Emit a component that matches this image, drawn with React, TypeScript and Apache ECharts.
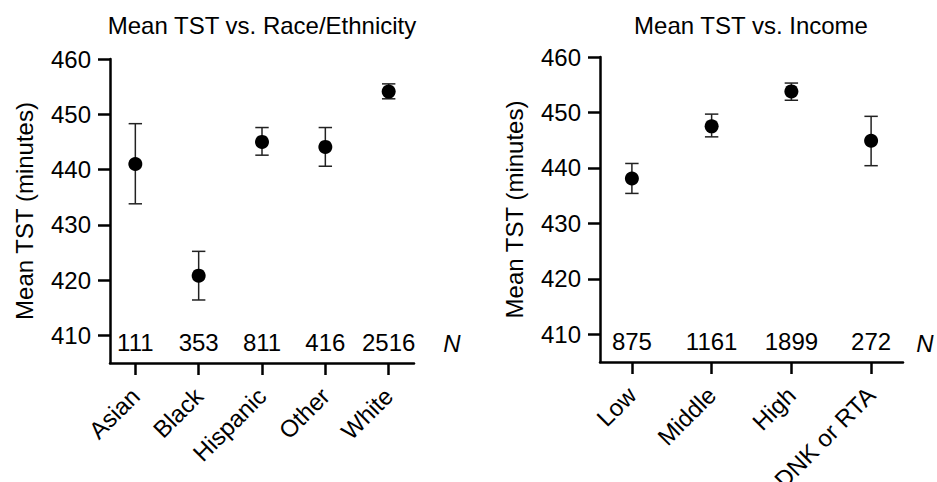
import React, { useEffect, useRef } from "react";
import * as echarts from "echarts";

const raceCats = ["Asian", "Black", "Hispanic", "Other", "White"];
const raceMean = [441.0, 420.8, 445.0, 444.1, 454.1];
const raceLower = [433.8, 416.4, 442.6, 440.6, 452.8];
const raceUpper = [448.3, 425.2, 447.6, 447.6, 455.5];
const raceN = [111, 353, 811, 416, 2516];

const incomeCats = ["Low", "Middle", "High", "DNK or RTA"];
const incomeMean = [438.1, 447.5, 453.8, 444.9];
const incomeLower = [435.4, 445.6, 452.2, 440.4];
const incomeUpper = [440.8, 449.7, 455.3, 449.3];
const incomeN = [875, 1161, 1899, 272];

const yTicks = [410, 420, 430, 440, 450, 460];
const yMin = 405;
const yMax = 460;

const titles = ["Mean TST vs. Race/Ethnicity", "Mean TST vs. Income"];
const yName = "Mean TST (minutes)";

const FONT = "'Liberation Sans', Arial, Helvetica, sans-serif";
const TXT = "#000";

function errorRender(params: any, api: any) {
  const x = api.value(0);
  const lo = api.coord([x, api.value(1)]);
  const hi = api.coord([x, api.value(2)]);
  const hw = 6.7;
  const style = { stroke: "#222", lineWidth: 1.5 };
  return {
    type: "group",
    children: [
      { type: "line", shape: { x1: lo[0], y1: lo[1], x2: hi[0], y2: hi[1] }, style },
      { type: "line", shape: { x1: lo[0] - hw, y1: lo[1], x2: lo[0] + hw, y2: lo[1] }, style },
      { type: "line", shape: { x1: hi[0] - hw, y1: hi[1], x2: hi[0] + hw, y2: hi[1] }, style },
    ],
  };
}

function buildPanel(idx: number, cats: string[], mean: number[], lower: number[], upper: number[], n: number[]) {
  const pos = cats.map((_, i) => i + 1);
  const xAxis = {
    type: "value",
    gridIndex: idx,
    min: 0.6,
    max: cats.length + 0.4,
    splitLine: { show: false },
    axisLine: { show: true, onZero: false, lineStyle: { color: "#000", width: 2.5 } },
    axisTick: { show: true, customValues: pos, length: 12, lineStyle: { color: "#000", width: 2.5 } },
    axisLabel: {
      customValues: pos,
      rotate: 45,
      margin: 29,
      color: TXT,
      fontSize: 24,
      fontFamily: FONT,
      formatter: (v: number) => cats[Math.round(v) - 1] ?? "",
    },
  };
  const yAxis = {
    type: "value",
    gridIndex: idx,
    min: yMin,
    max: yMax,
    name: yName,
    nameLocation: "middle",
    nameGap: 74,
    nameTextStyle: { color: TXT, fontSize: 24, fontFamily: FONT },
    splitLine: { show: false },
    axisLine: { show: true, onZero: false, lineStyle: { color: "#000", width: 2.5 } },
    axisTick: { show: true, customValues: yTicks, length: 12, lineStyle: { color: "#000", width: 2.5 } },
    axisLabel: { customValues: yTicks, margin: 19, color: TXT, fontSize: 24, fontFamily: FONT },
  };
  const series = [
    {
      type: "custom",
      xAxisIndex: idx,
      yAxisIndex: idx,
      renderItem: errorRender,
      encode: { x: 0, y: [1, 2] },
      data: pos.map((p, i) => [p, lower[i], upper[i]]),
      z: 2,
    },
    {
      type: "scatter",
      xAxisIndex: idx,
      yAxisIndex: idx,
      symbol: "circle",
      symbolSize: 14,
      itemStyle: { color: "#000", opacity: 1 },
      data: pos.map((p, i) => [p, mean[i]]),
      z: 3,
    },
    {
      type: "scatter",
      xAxisIndex: idx,
      yAxisIndex: idx,
      symbolSize: 1,
      itemStyle: { color: "rgba(0,0,0,0)", opacity: 1 },
      label: {
        show: true,
        position: "top",
        distance: 8,
        color: TXT,
        fontSize: 24,
        fontFamily: FONT,
        formatter: (p: any) => String(p.value[2]),
      },
      data: pos.map((p, i) => [p, yMin, n[i]]),
      z: 4,
    },
  ];
  return { xAxis, yAxis, series };
}

export default function App() {
  const ref = useRef<HTMLDivElement>(null);
  useEffect(() => {
    if (!ref.current) return;
    const chart = echarts.init(ref.current, undefined, { renderer: "svg" });
    const p0 = buildPanel(0, raceCats, raceMean, raceLower, raceUpper, raceN);
    const p1 = buildPanel(1, incomeCats, incomeMean, incomeLower, incomeUpper, incomeN);
    chart.setOption({
      animation: false,
      backgroundColor: "#fff",
      grid: [
        { left: 110, top: 59, width: 304, height: 304, containLabel: false, outerBoundsMode: "none" },
        { left: 600, top: 57, width: 303, height: 305, containLabel: false, outerBoundsMode: "none" },
      ],
      xAxis: [p0.xAxis, p1.xAxis],
      yAxis: [p0.yAxis, p1.yAxis],
      series: [...p0.series, ...p1.series],
      graphic: [
        { type: "text", x: 262, y: 25, style: { text: titles[0], fill: TXT, font: `24px ${FONT}`, textAlign: "center", textVerticalAlign: "middle" } },
        { type: "text", x: 751, y: 25, style: { text: titles[1], fill: TXT, font: `24px ${FONT}`, textAlign: "center", textVerticalAlign: "middle" } },
        { type: "text", x: 452, y: 343, style: { text: "N", fill: TXT, font: `italic 24px ${FONT}`, textAlign: "center", textVerticalAlign: "middle" } },
        { type: "text", x: 925, y: 343, style: { text: "N", fill: TXT, font: `italic 24px ${FONT}`, textAlign: "center", textVerticalAlign: "middle" } },
      ],
    });
    return () => chart.dispose();
  }, []);
  return (
    <div
      ref={ref}
      style={{ position: "fixed", left: 0, top: 0, width: 937, height: 482, background: "#fff" }}
    />
  );
}
